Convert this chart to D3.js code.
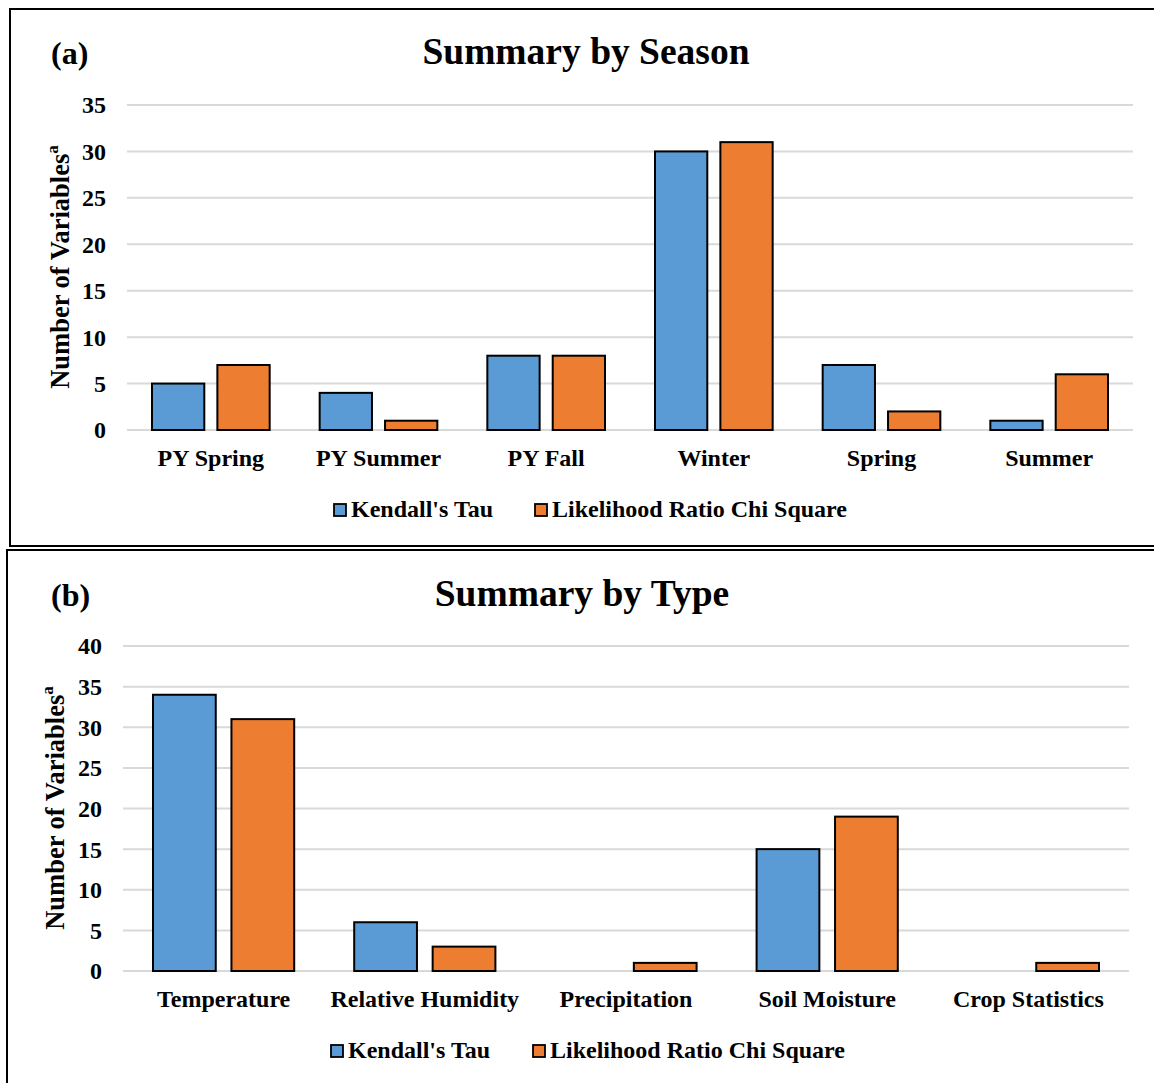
<!DOCTYPE html>
<html><head><meta charset="utf-8">
<script src="https://cdn.jsdelivr.net/npm/d3@7"></script>
<style>body{margin:0;background:#fff}svg{display:block}text{font-family:"Liberation Serif","Times New Roman",serif;font-weight:bold;fill:#000}</style>
</head><body>
<svg id="c" width="1154" height="1083"></svg>
<script>
const seriesNames = ["Kendall's Tau", "Likelihood Ratio Chi Square"];
const colors = ["#5b9bd5", "#ed7d31"];
const seasonCats = ["PY Spring", "PY Summer", "PY Fall", "Winter", "Spring", "Summer"];
const seasonKendall = [5, 4, 8, 30, 7, 1];
const seasonLR = [7, 1, 8, 31, 2, 6];
const seasonTicks = [0, 5, 10, 15, 20, 25, 30, 35];
const typeCats = ["Temperature", "Relative Humidity", "Precipitation", "Soil Moisture", "Crop Statistics"];
const typeKendall = [34, 6, 0, 15, 0];
const typeLR = [31, 3, 1, 19, 1];
const typeTicks = [0, 5, 10, 15, 20, 25, 30, 35, 40];

const svg = d3.select("#c");

function panel(cfg) {
  svg.append("rect").attr("x", cfg.box[0]).attr("y", cfg.box[1]).attr("width", cfg.box[2]).attr("height", cfg.box[3])
    .attr("fill", "none").attr("stroke", "#000").attr("stroke-width", 2);
  const y = d3.scaleLinear().domain([0, d3.max(cfg.ticks)]).range([cfg.y0, cfg.y1]);
  const x0 = d3.scaleBand().domain(cfg.cats).range([cfg.x0, cfg.x1]).paddingInner(0).paddingOuter(0);
  const bw = x0.bandwidth();
  const x1 = d3.scaleBand().domain([0, 1]).range([cfg.outer, bw - cfg.outer]).paddingInner(cfg.inner);
  const g = svg.append("g");
  g.selectAll("line.grid").data(cfg.ticks).join("line")
    .attr("x1", cfg.x0).attr("x2", cfg.x1).attr("y1", d => y(d)).attr("y2", d => y(d))
    .attr("stroke", "#d9d9d9").attr("stroke-width", 2);
  g.selectAll("text.yt").data(cfg.ticks).join("text")
    .attr("x", cfg.x0 - 21).attr("y", d => y(d)).attr("dy", "0.35em").attr("text-anchor", "end")
    .attr("font-size", 24).text(d => d);
  const data = [];
  cfg.cats.forEach((c, i) => { cfg.vals.forEach((arr, s) => data.push({c, s, v: arr[i]})); });
  g.selectAll("rect.bar").data(data.filter(d => d.v > 0)).join("rect")
    .attr("x", d => x0(d.c) + x1(d.s)).attr("width", x1.bandwidth())
    .attr("y", d => y(d.v)).attr("height", d => y(0) - y(d.v))
    .attr("fill", d => colors[d.s]).attr("stroke", "#000").attr("stroke-width", 2);
  g.selectAll("text.xc").data(cfg.cats).join("text")
    .attr("x", d => x0(d) + bw / 2).attr("y", cfg.y0 + 36).attr("text-anchor", "middle")
    .attr("font-size", 24).text(d => d);
  svg.append("text").attr("x", cfg.titleX).attr("y", cfg.titleY).attr("text-anchor", "middle")
    .attr("font-size", 37.5).text(cfg.title);
  svg.append("text").attr("x", 51).attr("y", cfg.titleY).attr("font-size", 32).text(cfg.label);
  const yt = svg.append("text").attr("transform", `translate(${cfg.ytx},${cfg.yty}) rotate(-90)`)
    .attr("text-anchor", "middle").attr("font-size", 26.5);
  yt.append("tspan").text("Number of Variables");
  yt.append("tspan").attr("font-size", 17).attr("dy", -11).text("a");
  cfg.legend.forEach((lx, s) => {
    svg.append("rect").attr("x", lx).attr("y", cfg.legY - 13).attr("width", 12).attr("height", 12)
      .attr("fill", colors[s]).attr("stroke", "#000").attr("stroke-width", 1.8);
    svg.append("text").attr("x", lx + 17).attr("y", cfg.legY).attr("font-size", 24).text(seriesNames[s]);
  });
}

panel({box: [10, 9, 1160, 537], cats: seasonCats, vals: [seasonKendall, seasonLR], ticks: seasonTicks,
  x0: 127, x1: 1133, y0: 430, y1: 105, outer: 25, inner: 0.2,
  title: "Summary by Season", titleX: 586, titleY: 64, label: "(a)", ytx: 69, yty: 267,
  legend: [334, 535], legY: 517});

panel({box: [7, 550, 1160, 545], cats: typeCats, vals: [typeKendall, typeLR], ticks: typeTicks,
  x0: 123, x1: 1129, y0: 971, y1: 646, outer: 30, inner: 0.2,
  title: "Summary by Type", titleX: 582, titleY: 606, label: "(b)", ytx: 64, yty: 808,
  legend: [331, 533], legY: 1058});
</script>
</body></html>
